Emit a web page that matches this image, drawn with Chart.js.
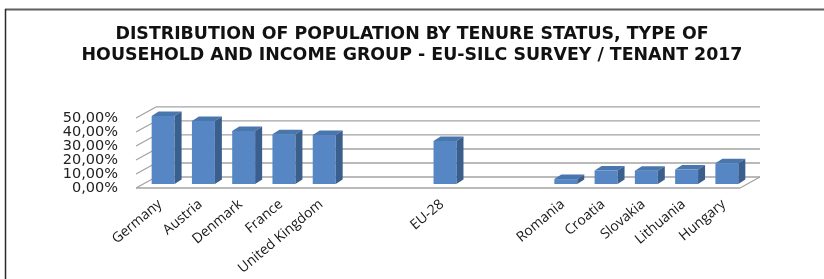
<!DOCTYPE html>
<html>
<head>
<meta charset="utf-8">
<script src="https://cdn.jsdelivr.net/npm/chart.js@4.4.1/dist/chart.umd.min.js"></script>
<style>
  html, body { margin: 0; padding: 0; background: #ffffff; }
  #wrap { width: 824px; height: 279px; position: relative; }
</style>
</head>
<body>
<div id="wrap"><canvas id="c" width="824" height="279"></canvas></div>
<script>
const titleLines = [
  'DISTRIBUTION OF POPULATION BY TENURE STATUS, TYPE OF',
  'HOUSEHOLD AND INCOME GROUP - EU-SILC SURVEY / TENANT 2017'
];
const categories = ['Germany', 'Austria', 'Denmark', 'France', 'United Kingdom', '', '', 'EU-28', '', '', 'Romania', 'Croatia', 'Slovakia', 'Lithuania', 'Hungary'];
const tenantShare = [48.6, 45.0, 37.8, 35.6, 35.0, null, null, 30.7, null, null, 3.5, 9.6, 9.5, 10.3, 14.8];
const yTicks = [0, 10, 20, 30, 40, 50];

const FRONT = { x: -7, y: 4 };
const BACK = { x: 13, y: -7 };
const DEPTH = { x: 7, y: -4.5 };

function line(ctx, x1, y1, x2, y2) {
  ctx.beginPath(); ctx.moveTo(x1, y1); ctx.lineTo(x2, y2); ctx.stroke();
}
function poly(ctx, pts, fill) {
  ctx.beginPath();
  ctx.moveTo(pts[0][0], pts[0][1]);
  for (let i = 1; i < pts.length; i++) ctx.lineTo(pts[i][0], pts[i][1]);
  ctx.closePath();
  ctx.fillStyle = fill; ctx.fill();
}

const threeD = {
  id: 'threeD',
  beforeDraw(chart) {
    const ctx = chart.ctx;
    ctx.save();
    ctx.strokeStyle = '#5f5f5f'; ctx.lineWidth = 2;
    line(ctx, 5, 9.5, 824, 9.5);
    ctx.strokeStyle = '#2a2a2a'; ctx.lineWidth = 1.5;
    line(ctx, 5.5, 9, 5.5, 279);
    ctx.restore();
  },
  beforeDatasetsDraw(chart) {
    const { ctx, chartArea: a, scales: { y } } = chart;
    ctx.save();
    ctx.strokeStyle = '#a3a3a3'; ctx.lineWidth = 1.3;
    yTicks.forEach(v => {
      const py = y.getPixelForValue(v);
      line(ctx, a.left + FRONT.x, py + FRONT.y, a.left + BACK.x, py + BACK.y);
      line(ctx, a.left + BACK.x, py + BACK.y, a.right + BACK.x, py + BACK.y);
    });
    const pb = y.getPixelForValue(0);
    line(ctx, a.left + FRONT.x, pb + FRONT.y, a.right + FRONT.x, pb + FRONT.y);
    line(ctx, a.right + FRONT.x, pb + FRONT.y, a.right + BACK.x, pb + BACK.y);
    ctx.restore();
  },
  afterDatasetsDraw(chart) {
    const ctx = chart.ctx;
    const meta = chart.getDatasetMeta(0);
    ctx.save();
    meta.data.forEach((bar, i) => {
      if (tenantShare[i] == null) return;
      const p = bar.getProps(['x', 'y', 'base', 'width'], true);
      const l = p.x - p.width / 2, r = p.x + p.width / 2;
      poly(ctx, [[l, p.y], [r, p.y], [r + DEPTH.x, p.y + DEPTH.y], [l + DEPTH.x, p.y + DEPTH.y]], '#4a76ae');
      poly(ctx, [[r, p.y], [r + DEPTH.x, p.y + DEPTH.y], [r + DEPTH.x, p.base + DEPTH.y], [r, p.base]], '#3a5f8d');
    });
    ctx.restore();
  }
};

new Chart(document.getElementById('c'), {
  type: 'bar',
  data: {
    labels: categories,
    datasets: [{
      data: tenantShare,
      backgroundColor: '#5686c4',
      borderWidth: 0,
      categoryPercentage: 1,
      barPercentage: 0.57
    }]
  },
  options: {
    responsive: false,
    animation: false,
    layout: { padding: { left: 0, right: 0, top: 0, bottom: 0 } },
    plugins: {
      legend: { display: false },
      tooltip: { enabled: false },
      title: {
        display: true,
        text: titleLines,
        color: '#111111',
        font: { family: 'DejaVu Sans', weight: 'bold', size: 17.4, lineHeight: 1.22 },
        padding: { top: 24, bottom: 47.5 }
      }
    },
    scales: {
      x: {
        grid: { display: false },
        border: { display: false },
        ticks: {
          autoSkip: false,
          maxRotation: 40,
          minRotation: 40,
          padding: 4,
          labelOffset: -3,
          color: '#1a1a1a',
          font: { family: 'Open Sans', size: 14 }
        },
        afterFit(s) { s.height = 95; }
      },
      y: {
        min: 0,
        max: 50,
        grid: { display: false },
        border: { display: false },
        ticks: {
          autoSkip: false,
          stepSize: 10,
          padding: 17,
          labelOffset: 4,
          color: '#222222',
          font: { family: 'DejaVu Sans', size: 14.5 },
          callback: v => v.toFixed(2).replace('.', ',') + '%'
        },
        afterFit(s) { s.width = 143; }
      },
      yRight: {
        position: 'right',
        display: true,
        grid: { display: false },
        border: { display: false },
        ticks: { display: false },
        afterFit(s) { s.width = 77; }
      }
    }
  },
  plugins: [threeD]
});
</script>
</body>
</html>
